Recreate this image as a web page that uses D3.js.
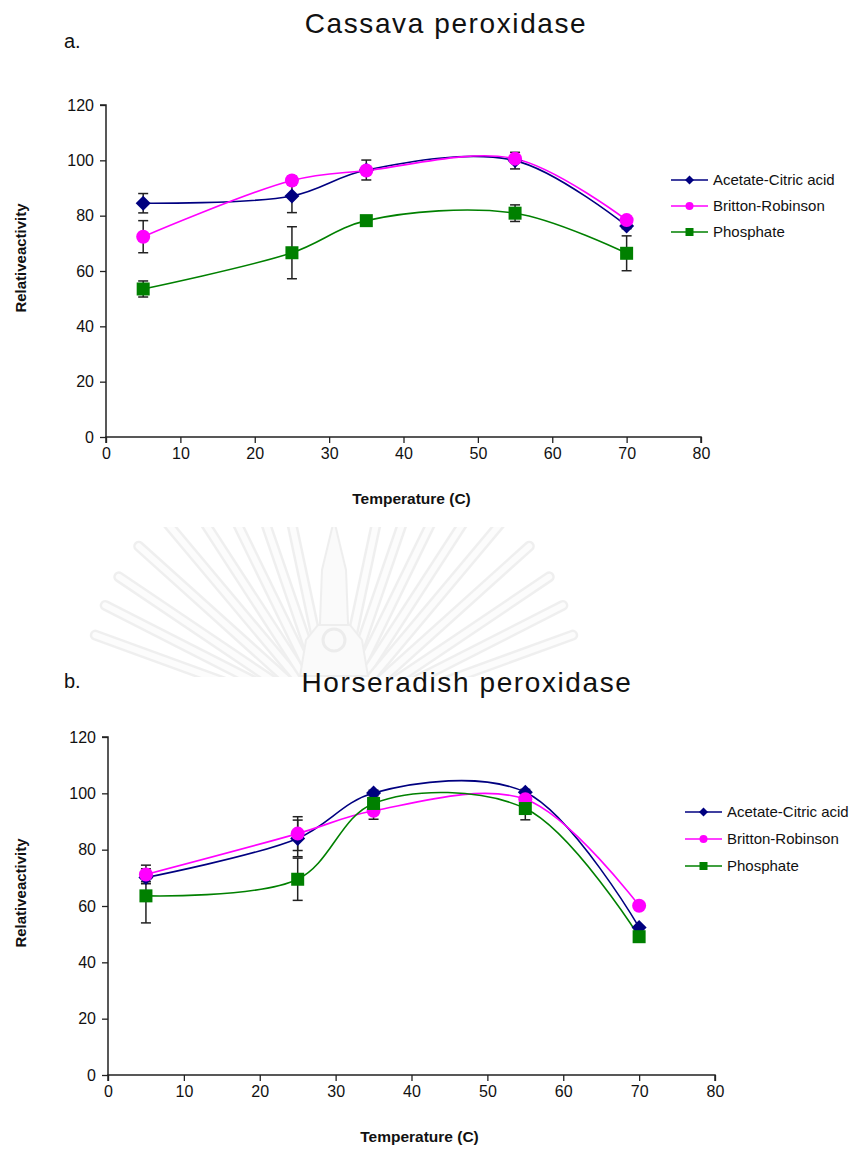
<!DOCTYPE html>
<html lang="en">
<head>
  <meta charset="UTF-8">
  <title>Peroxidase relative activity vs temperature</title>
  <script src="https://d3js.org/d3.v7.min.js"></script>
  <style>
    body { margin: 0; background: #fff; }
    text { font-family: "Liberation Sans", Arial, sans-serif; fill: #111; }
  </style>
</head>
<body>
  <svg width="861" height="1149"></svg>

  <script>
    // Temperatures measured
    var temps = [5, 25, 35, 55, 70];

    // Series names
    var seriesNames = ["Acetate-Citric acid", "Britton-Robinson", "Phosphate"];

    // a. Cassava peroxidase
    var cassavaAcetate = [84.5, 87.1, 96.5, 99.9, 76.3];
    var cassavaAcetateErr = [3.5, 6, 3.6, 3, 1];
    var cassavaBritton = [72.4, 92.7, 96.3, 100.6, 78.4];
    var cassavaBrittonErr = [5.8, 1.5, 1, 1, 1];
    var cassavaPhosphate = [53.5, 66.6, 78.2, 80.9, 66.4];
    var cassavaPhosphateErr = [2.9, 9.4, 1, 3, 6.3];

    // b. Horseradish peroxidase
    var horseAcetate = [70.1, 84.0, 100.1, 100.4, 52.4];
    var horseAcetateErr = [1.5, 6.5, 1, 1, 0.5];
    var horseBritton = [71.2, 85.7, 93.8, 97.9, 60.1];
    var horseBrittonErr = [3.3, 6, 3, 1, 0.5];
    var horsePhosphate = [63.6, 69.5, 96.4, 94.6, 49.1];
    var horsePhosphateErr = [9.6, 7.5, 1, 4, 0.5];

    var xTicks = [0, 10, 20, 30, 40, 50, 60, 70, 80];
    var yTicks = [0, 20, 40, 60, 80, 100, 120];

    var colors = ["#000080", "#ff00ff", "#008000"];
    var shapes = ["diamond", "circle", "square"];

    var svg = d3.select("svg");

    // faint emblem watermark between the two panels
    function drawWatermark() {
      svg.append("clipPath").attr("id", "wmclip")
        .append("rect").attr("x", 0).attr("y", 527).attr("width", 861).attr("height", 150);
      var g = svg.append("g").attr("clip-path", "url(#wmclip)").attr("opacity", 0.6);
      var cx = 334, cy = 722;
      var angles = [-70, -63, -56, -48, -40, -33, -26, -19, -12, 12, 19, 26, 33, 40, 48, 56, 63, 70];
      angles.forEach(function(a) {
        var r = a * Math.PI / 180;
        var len = 282 - Math.abs(a) * 0.4;
        var x1 = cx + Math.sin(r) * 50, y1 = cy - Math.cos(r) * 50;
        var x2 = cx + Math.sin(r) * len, y2 = cy - Math.cos(r) * len;
        g.append("line").attr("x1", x1).attr("y1", y1).attr("x2", x2).attr("y2", y2)
          .attr("stroke", "#e6e6e6").attr("stroke-width", 11).attr("stroke-linecap", "round");
        g.append("line").attr("x1", x1).attr("y1", y1).attr("x2", x2).attr("y2", y2)
          .attr("stroke", "#fbfbfb").attr("stroke-width", 6).attr("stroke-linecap", "round");
      });
      g.append("path")
        .attr("d", "M318,676 L322,570 L334,520 L346,570 L350,676 Z")
        .attr("fill", "#f7f7f7").attr("stroke", "#e4e4e4").attr("stroke-width", 2);
      g.append("path")
        .attr("d", "M300,676 L306,640 L318,625 L350,625 L362,640 L368,676 Z")
        .attr("fill", "#f7f7f7").attr("stroke", "#e4e4e4").attr("stroke-width", 2);
      g.append("circle").attr("cx", 334).attr("cy", 640).attr("r", 11)
        .attr("fill", "none").attr("stroke", "#e0e0e0").attr("stroke-width", 3);
    }
    drawWatermark();

    function marker(g, shape, x, y, size, color) {
      if (shape === "diamond") {
        g.append("path")
          .attr("d", "M" + x + "," + (y - size) + " L" + (x + size) + "," + y +
                " L" + x + "," + (y + size) + " L" + (x - size) + "," + y + " Z")
          .attr("fill", color);
      } else if (shape === "circle") {
        g.append("circle").attr("cx", x).attr("cy", y).attr("r", size).attr("fill", color);
      } else {
        g.append("rect").attr("x", x - size).attr("y", y - size)
          .attr("width", size * 2).attr("height", size * 2).attr("fill", color);
      }
    }

    function drawPanel(opt) {
      var x = d3.scaleLinear().domain([0, 80]).range([opt.x0, opt.x1]);
      var y = d3.scaleLinear().domain([0, 120]).range([opt.y0, opt.y1]);
      var g = svg.append("g");

      // title and panel letter
      g.append("text").attr("x", opt.titleX).attr("y", opt.titleY)
        .attr("text-anchor", "middle")
        .style("font-size", "28px").style("letter-spacing", "1.6px").text(opt.title);
      g.append("text").attr("x", opt.letterX).attr("y", opt.letterY)
        .style("font-size", "20px").text(opt.letter);

      // axes
      var xAxis = g.append("g").attr("transform", "translate(0," + opt.y0 + ")")
        .call(d3.axisBottom(x).tickValues(xTicks).tickSize(6).tickPadding(5));
      var yAxis = g.append("g").attr("transform", "translate(" + opt.x0 + ",0)")
        .call(d3.axisLeft(y).tickValues(yTicks).tickSize(6).tickPadding(6));
      [xAxis, yAxis].forEach(function(a) {
        a.select(".domain").attr("stroke", "#222").attr("stroke-width", 1.5);
        a.selectAll(".tick line").attr("stroke", "#222").attr("stroke-width", 1.3);
        a.selectAll(".tick text").style("font-size", "16px").attr("fill", "#111");
      });
      yAxis.select(".domain").attr("d", "M-6," + opt.y1 + "H0V" + opt.y0);
      xAxis.select(".domain").attr("d", "M" + opt.x0 + ",6V0H" + opt.x1 + "V6");

      g.append("text")
        .attr("transform", "translate(" + opt.yLabelX + "," + ((opt.y0 + opt.y1) / 2 - 13) + ") rotate(-90)")
        .attr("text-anchor", "middle").style("font-size", "15px").style("font-weight", "bold")
        .text("Relativeactivity");
      g.append("text").attr("x", (opt.x0 + opt.x1) / 2 + 8).attr("y", opt.y0 + 67)
        .attr("text-anchor", "middle").style("font-size", "15.5px").style("font-weight", "bold")
        .text("Temperature (C)");

      var line = d3.line()
        .x(function(d) { return x(d[0]); })
        .y(function(d) { return y(d[1]); })
        .curve(d3.curveCatmullRom.alpha(0.5));

      opt.series.forEach(function(s, i) {
        var pts = temps.map(function(t, j) { return [t, s.values[j]]; });
        g.append("path").datum(pts).attr("d", line)
          .attr("fill", "none").attr("stroke", colors[i]).attr("stroke-width", 1.6);
      });

      opt.series.forEach(function(s, i) {
        var eg = g.append("g").attr("stroke", "#222").attr("stroke-width", 1.5);
        temps.forEach(function(t, j) {
          var cxp = x(t), top = y(s.values[j] + s.err[j]), bot = y(s.values[j] - s.err[j]);
          eg.append("line").attr("x1", cxp).attr("x2", cxp).attr("y1", top).attr("y2", bot);
          eg.append("line").attr("x1", cxp - 5).attr("x2", cxp + 5).attr("y1", top).attr("y2", top);
          eg.append("line").attr("x1", cxp - 5).attr("x2", cxp + 5).attr("y1", bot).attr("y2", bot);
        });
      });

      opt.series.forEach(function(s, i) {
        var mg = g.append("g");
        var size = shapes[i] === "diamond" ? 7.5 : (shapes[i] === "circle" ? 7 : 6.5);
        temps.forEach(function(t, j) {
          marker(mg, shapes[i], x(t), y(s.values[j]), size, colors[i]);
        });
      });

      // legend
      var lg = g.append("g");
      seriesNames.forEach(function(name, i) {
        var ly = opt.legendY + i * opt.legendGap;
        lg.append("line").attr("x1", opt.legendX).attr("x2", opt.legendX + 37)
          .attr("y1", ly).attr("y2", ly).attr("stroke", colors[i]).attr("stroke-width", 1.6);
        var size = shapes[i] === "diamond" ? 4.5 : 4;
        marker(lg, shapes[i], opt.legendX + 18.5, ly, size, colors[i]);
        lg.append("text").attr("x", opt.legendX + 42).attr("y", ly + 5)
          .style("font-size", "15px").text(name);
      });
    }

    drawPanel({
      title: "Cassava peroxidase", titleX: 446, titleY: 33,
      letter: "a.", letterX: 64, letterY: 48,
      x0: 106, x1: 701, y0: 437, y1: 105, yLabelX: 26,
      legendX: 671, legendY: 180, legendGap: 26,
      series: [
        { values: cassavaAcetate, err: cassavaAcetateErr },
        { values: cassavaBritton, err: cassavaBrittonErr },
        { values: cassavaPhosphate, err: cassavaPhosphateErr }
      ]
    });

    drawPanel({
      title: "Horseradish peroxidase", titleX: 467, titleY: 692,
      letter: "b.", letterX: 64, letterY: 688,
      x0: 108, x1: 715, y0: 1075, y1: 737, yLabelX: 26,
      legendX: 685, legendY: 812, legendGap: 27,
      series: [
        { values: horseAcetate, err: horseAcetateErr },
        { values: horseBritton, err: horseBrittonErr },
        { values: horsePhosphate, err: horsePhosphateErr }
      ]
    });
  </script>
</body>
</html>
